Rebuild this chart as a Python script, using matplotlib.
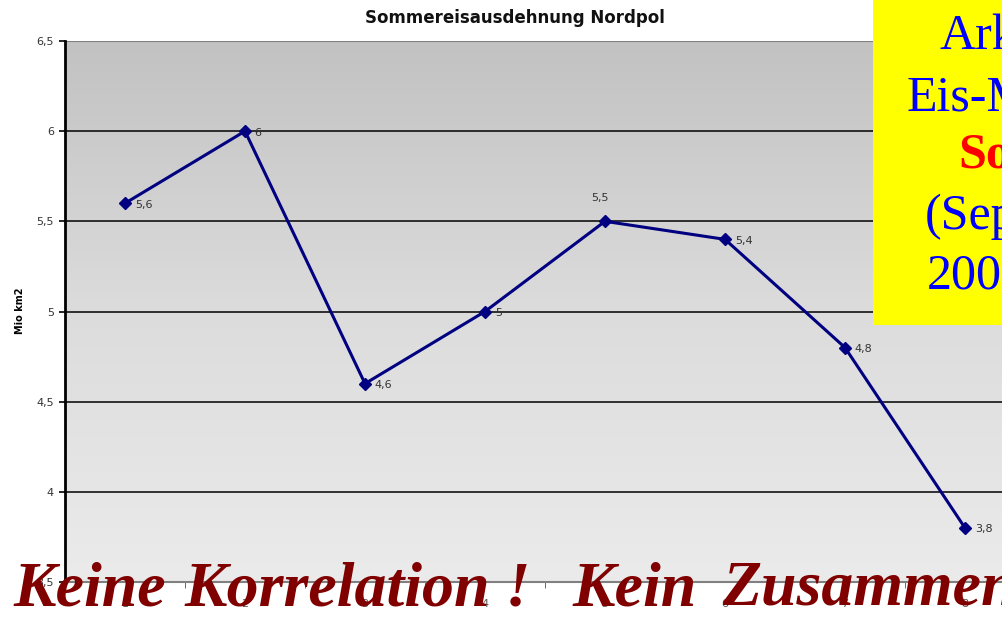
import numpy as np
import matplotlib
matplotlib.use("Agg")
import matplotlib.pyplot as plt

# Data
categories = [1, 2, 3, 4, 5, 6, 7, 8]
ice_extent = [5.6, 6.0, 4.6, 5.0, 5.5, 5.4, 4.8, 3.8]
value_labels = ["5,6", "6", "4,6", "5", "5,5", "5,4", "4,8", "3,8"]
y_ticks = [3.5, 4.0, 4.5, 5.0, 5.5, 6.0, 6.5]
y_tick_labels = ["3,5", "4", "4,5", "5", "5,5", "6", "6,5"]

W, H = 1002, 620
fig = plt.figure(figsize=(W / 100, H / 100), dpi=100)
fig.patch.set_facecolor("white")

# Plot area extends past the right edge of the figure
ax = fig.add_axes([65 / W, 1 - 582 / H, (1025 - 65) / W, (582 - 41) / H])
ax.set_xlim(0.5, 8.5)
ax.set_ylim(3.5, 6.5)

# Vertical grey gradient background
grad = np.linspace(0, 1, 256).reshape(-1, 1)
cmap = matplotlib.colors.LinearSegmentedColormap.from_list(
    "bg", ["#ebebeb", "#dcdcdc", "#c2c2c2"])
ax.imshow(grad, extent=[0.5, 8.5, 3.5, 6.5], origin="lower", aspect="auto",
          cmap=cmap, zorder=0)

for y in y_ticks[1:-1]:
    ax.axhline(y, color="black", lw=1.1, zorder=1)
ax.axhline(6.5, color="#808080", lw=1.5, zorder=1)

ax.plot(categories, ice_extent, color="#000080", lw=2.2, marker="D",
        markersize=6, markerfacecolor="#000080", zorder=3)

for x, v, lab in zip(categories, ice_extent, value_labels):
    if lab == "5,5":
        ax.annotate(lab, (x, v), xytext=(-4, 13), textcoords="offset points",
                    ha="center", va="bottom", fontsize=8, color="#333333")
    else:
        ax.annotate(lab, (x, v), xytext=(7, -1), textcoords="offset points",
                    ha="left", va="center", fontsize=8, color="#333333")

ax.set_yticks(y_ticks)
ax.set_yticklabels(y_tick_labels, fontsize=8, color="#333333")
ax.set_xticks(categories)
ax.set_xticklabels([str(c) for c in categories], fontsize=8, color="#555555")
ax.set_xticks(np.arange(1.5, 8.5, 1), minor=True)
ax.tick_params(axis="x", which="major", length=0, pad=12)
ax.tick_params(axis="x", which="minor", length=4, color="#555555")
ax.tick_params(axis="y", length=4, width=1.2, pad=4)

for s in ["top", "right"]:
    ax.spines[s].set_visible(False)
ax.spines["left"].set_linewidth(2)
ax.spines["bottom"].set_color("#808080")
ax.spines["bottom"].set_linewidth(1.5)

fig.text(20 / W, 1 - 311 / H, "Mio km2", rotation=90, fontsize=7,
         fontweight="bold", ha="center", va="center")
fig.text(515 / W, 1 - 18 / H, "Sommereisausdehnung Nordpol", fontsize=12,
         fontweight="bold", ha="center", va="center", color="#111111")

# Yellow note box at the upper right
box = plt.Rectangle((873 / W, 1 - 325 / H), 0.2, 325 / H, transform=fig.transFigure,
                    facecolor="#ffff00", edgecolor="none", zorder=5)
fig.add_artist(box)
serif = "Liberation Serif"
lines = [("Arktisches", 940, 50, "#0000ff", "normal"),
         ("Eis-Minimum", 907, 110, "#0000ff", "normal"),
         ("Sommer", 958, 168, "#ff0000", "bold"),
         ("(September)", 925, 229, "#0000ff", "normal"),
         ("2000-2007", 927, 288, "#0000ff", "normal")]
for txt, x, y, c, w in lines:
    fig.text(x / W, 1 - y / H, txt, fontsize=36, family=serif, color=c,
             fontweight=w, ha="left", va="baseline", zorder=6)

# Bold italic statement across the bottom, set word group by word group
statement = [("Keine", 13), ("Korrelation !", 184), ("Kein", 572),
             ("Zusammenhang !", 722)]
for word, x in statement:
    fig.text(x / W, 1 - 605 / H, word, fontsize=46, family=serif,
             fontweight="bold", fontstyle="italic", color="#800000",
             ha="left", va="baseline", zorder=7)

fig.savefig("out.png", dpi=100)
